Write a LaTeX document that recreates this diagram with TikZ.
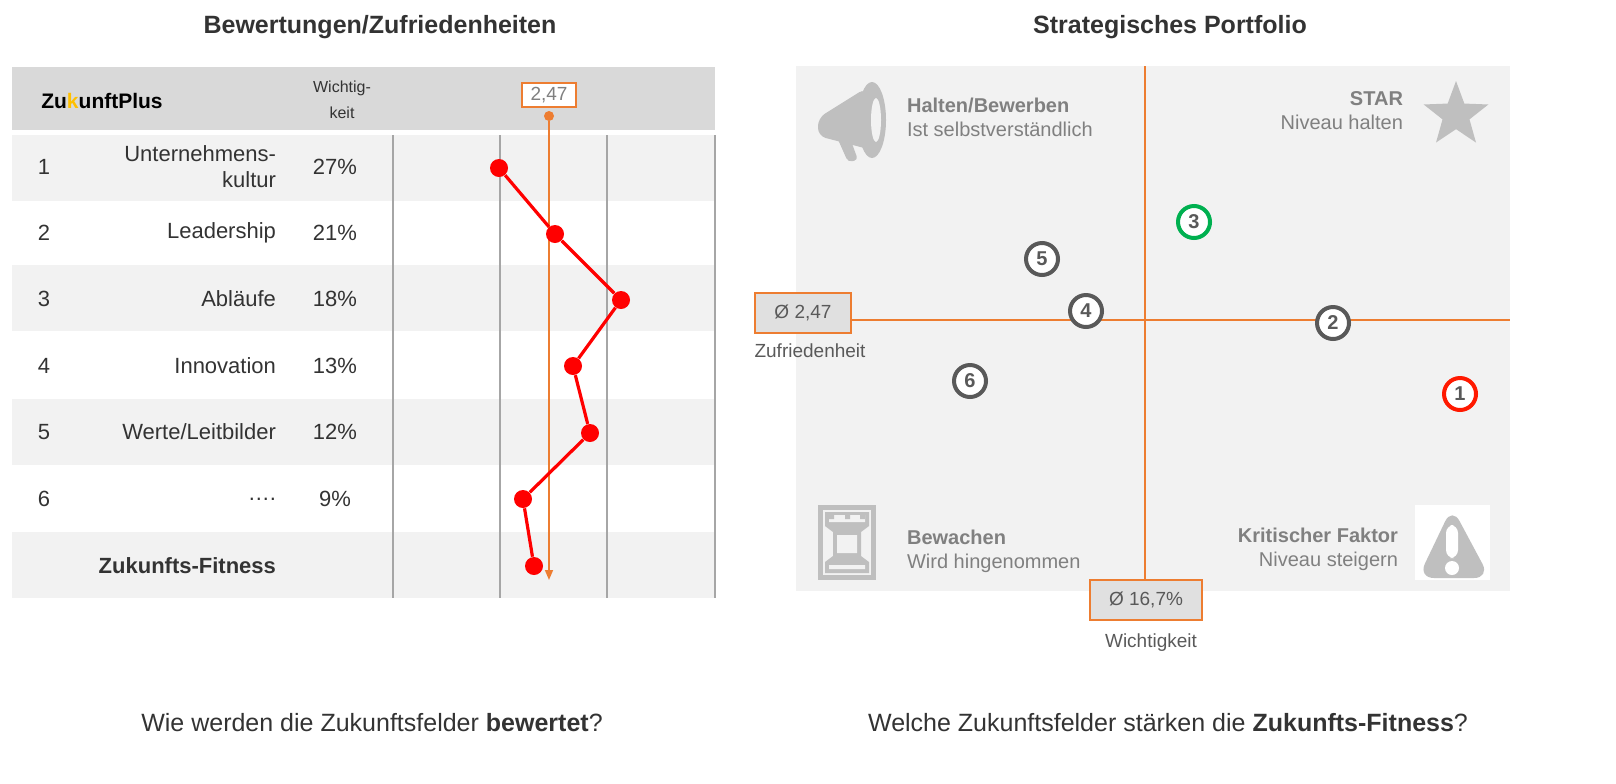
\documentclass[tikz,border=0pt]{standalone}
\usepackage{fontspec}
\setmainfont{Liberation Sans}
\usetikzlibrary{shapes.geometric,arrows.meta}
\definecolor{zorange}{RGB}{237,125,49}
\definecolor{zred}{RGB}{255,0,0}
\definecolor{zgreen}{RGB}{0,176,80}
\definecolor{zdark}{RGB}{89,89,89}
\definecolor{zgray}{RGB}{128,128,128}
\definecolor{zicon}{RGB}{191,191,191}
\definecolor{zlogo}{RGB}{255,192,0}
\begin{document}
\begin{tikzpicture}[x=0.5pt,y=-0.5pt,
  txt/.style={font=\fontsize{11}{13}\selectfont, text=black!80},
  pt/.style={circle, fill=zred, inner sep=0pt, minimum size=9pt},
  mark/.style={circle, draw=#1, line width=2pt, fill=white, inner sep=0pt, minimum size=16pt, text=zdark, font=\bfseries\fontsize{10}{12}\selectfont},
  avg/.style={draw=zorange, line width=0.8pt, fill=black!12, text=zdark, font=\fontsize{9.5}{11}\selectfont, minimum height=20pt},
  quad/.style={text=zgray, font=\fontsize{10}{12}\selectfont, align=#1}]
\useasboundingbox (0,0) rectangle (1616,783);
% Titles
\node[font=\bfseries\fontsize{12.5}{15}\selectfont, text=black!80] (tleft) at (380,27) {Bewertungen/Zufriedenheiten};
\node[font=\bfseries\fontsize{12.5}{15}\selectfont, text=black!80] (tright) at (1170,27) {Strategisches Portfolio};

% Table
\fill[black!15] (12,67) rectangle (715,130);
\foreach \y in {135,265,399,532} \fill[black!5] (12,\y) rectangle (715,\y+66);
\foreach \x in {393,500,607,715} \draw[black!35, line width=0.6pt] (\x,135) -- (\x,598);
\node[font=\bfseries\fontsize{10.5}{12}\selectfont] (logo) at (102,101) {Zu\textcolor{zlogo}{k}unftPlus};
\node[font=\fontsize{8}{13}\selectfont, text=black!80, align=center] (wlab) at (342,100) {Wichtig-\\keit};
\foreach \n/\name/\p/\y in {1/{Unternehmens-\\kultur}/27\%/167, 2/Leadership/21\%/233, 3/Abläufe/18\%/299, 4/Innovation/13\%/366, 5/{Werte/Leitbilder}/12\%/432, 6/{\dots.}/9\%/499} {
  \node[txt] (num\n) at (44,\y) {\n};
  \node[txt, anchor=east, align=right] (name\n) at (283,\y) {\name};
  \node[txt] (pct\n) at (335,\y) {\p};
}
\node[txt, font=\bfseries\fontsize{11}{13}\selectfont, anchor=east] (fit) at (283,566) {Zukunfts-Fitness};

% Average line
\node[draw=zorange, line width=0.8pt, fill=white, text=zgray, font=\fontsize{9.5}{11}\selectfont, inner sep=2pt, minimum width=27pt] (avgtop) at (549,95) {2,47};
\node[circle, fill=zorange, inner sep=0pt, minimum size=5pt] (avgdot) at (549,116) {};
\coordinate (avgend) at (549,580);
\draw[zorange, line width=0.8pt, -{Triangle[length=5pt,width=4pt]}] (avgdot) -- (avgend);

% Ratings
\foreach \i/\x/\y in {1/499/168, 2/555/234, 3/621/300, 4/573/366, 5/590/433, 6/523/499, 7/534/566}
  \node[pt] (r\i) at (\x,\y) {};
\draw[zred, line width=1.6pt] (r1) -- (r2) -- (r3) -- (r4) -- (r5) -- (r6) -- (r7);

% Portfolio
\fill[black!5] (796,66) rectangle (1510,591);
\node[avg, minimum width=48pt] (avgx) at (803,313) {Ø 2,47};
\node[avg, minimum width=56pt] (avgy) at (1146,600) {Ø 16,7\%};
\coordinate (xend) at (1510,320);
\coordinate (ytop) at (1145,66);
\draw[zorange, line width=0.8pt] (avgx.east |- xend) -- (xend);
\draw[zorange, line width=0.8pt] (ytop) -- (avgy.north -| ytop);
\node[font=\fontsize{9.5}{11}\selectfont, text=zdark] (zlab) at (810,351) {Zufriedenheit};
\node[font=\fontsize{9.5}{11}\selectfont, text=zdark] (wilab) at (1151,643) {Wichtigkeit};

\node[mark=zgreen] (m3) at (1194,222) {3};
\node[mark=zdark] (m5) at (1042,259) {5};
\node[mark=zdark] (m4) at (1086,311) {4};
\node[mark=zdark] (m2) at (1333,323) {2};
\node[mark=zdark] (m6) at (970,381) {6};
\node[mark=zred!80!orange] (m1) at (1460,394) {1};

% Quadrant labels
\node[quad=left, anchor=west] (q1) at (900,117) {\textbf{Halten/Bewerben}\\Ist selbstverständlich};
\node[quad=right, anchor=east] (q2) at (1410,111) {\textbf{STAR}\\Niveau halten};
\node[quad=left, anchor=west] (q3) at (900,551) {\textbf{Bewachen}\\Wird hingenommen};
\node[quad=right, anchor=east] (q4) at (1405,549) {\textbf{Kritischer Faktor}\\Niveau steigern};

% Icons
\node[star, star points=5, star point ratio=2.4, fill=zicon, inner sep=0pt, minimum size=34pt] (star) at (1456,115) {};
\fill[zicon, rounded corners=4pt] (818,118) -- (866,88) -- (872,150) -- (818,136) -- cycle;
\fill[zicon] (872,120) ellipse (14 and 38);
\fill[zicon, rounded corners=2pt] (836,135) -- (850,138) -- (858,160) -- (848,162) -- cycle;
\fill[black!5] (876,120) ellipse (5 and 22);
% rook
\fill[zicon] (818,505) rectangle (876,580);
\fill[black!5] (823,510) rectangle (871,575);
\fill[zicon] (825,512) -- (869,512) -- (869,526) -- (861,532) -- (861,556) -- (869,562) -- (869,573) -- (825,573) -- (825,562) -- (833,556) -- (833,532) -- (825,526) -- cycle;
\fill[black!5] (829,515) rectangle (865,522) (837,535) rectangle (857,553) (829,565) rectangle (865,569);
\fill[zicon] (829,515) rectangle (834,519) (845,515) rectangle (850,519) (860,515) rectangle (865,519);
% warning sign
\fill[white] (1415,505) rectangle (1490,580);
\fill[zicon, rounded corners=8pt] (1452,507) -- (1490,578) -- (1418,578) -- cycle;
\fill[white, rounded corners=4pt] (1446,525) rectangle (1458,558);
\fill[white] (1452,568) circle (7);

% Questions
\node[font=\fontsize{12.5}{15}\selectfont, text=black!80] (qleft) at (372,723) {Wie werden die Zukunftsfelder \textbf{bewertet}?};
\node[font=\fontsize{12.5}{15}\selectfont, text=black!80] (qright) at (1168,723) {Welche Zukunftsfelder stärken die \textbf{Zukunfts-Fitness}?};
\end{tikzpicture}
\end{document}
